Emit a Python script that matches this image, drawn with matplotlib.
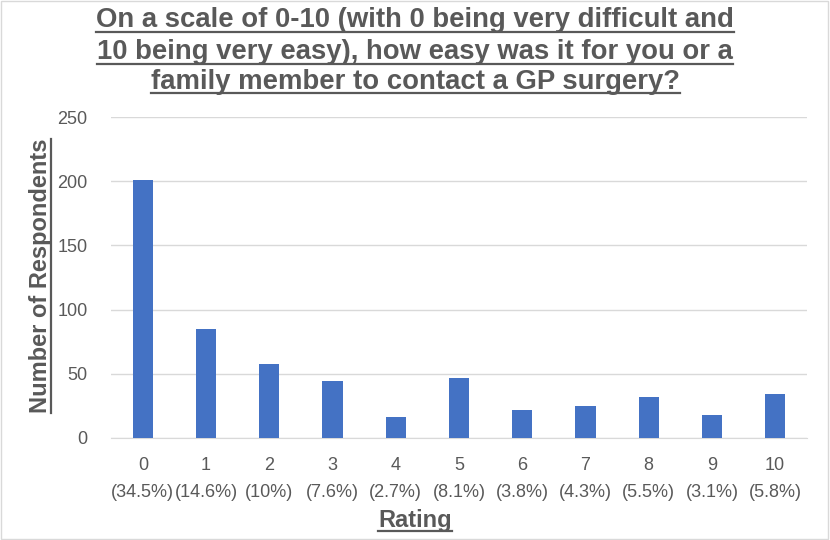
import matplotlib
matplotlib.use('Agg')
import matplotlib.pyplot as plt
from matplotlib.lines import Line2D
from matplotlib import font_manager
import numpy as np

ratings = ['0', '1', '2', '3', '4', '5', '6', '7', '8', '9', '10']
counts = [201, 85, 58, 44, 16, 47, 22, 25, 32, 18, 34]
percents = ['34.5%', '14.6%', '10%', '7.6%', '2.7%', '8.1%', '3.8%', '4.3%', '5.5%', '3.1%', '5.8%']

title_lines = ['On a scale of 0-10 (with 0 being very difficult and',
               '10 being very easy), how easy was it for you or a',
               'family member to contact a GP surgery?']

names = {f.name for f in font_manager.fontManager.ttflist}
narrow = 'Liberation Sans Narrow' if 'Liberation Sans Narrow' in names else 'Liberation Sans'

grey = '#595959'
plt.rcParams['font.family'] = ['Liberation Sans', 'DejaVu Sans']

fig = plt.figure(figsize=(8.3, 5.4), dpi=100)
ax = fig.add_axes([0.134, 0.189, 0.838, 0.594])

x = np.arange(len(ratings))
ax.bar(x, counts, width=0.32, color='#4472C4', zorder=3)
ax.set_xlim(-0.5, len(ratings) - 0.5)
ax.set_ylim(0, 250)
ax.set_yticks(range(0, 251, 50))
ax.set_xticks(x)
ax.set_xticklabels([f'{r}\n({p})' for r, p in zip(ratings, percents)],
                   fontsize=13, color=grey, linespacing=1.75)
ax.tick_params(axis='y', labelsize=13, labelcolor=grey, length=0, pad=17)
ax.tick_params(axis='x', length=0, pad=14)
ax.grid(axis='y', color='#d9d9d9', linewidth=1, zorder=0)
for s in ['top', 'right', 'left']:
    ax.spines[s].set_visible(False)
ax.spines['bottom'].set_color('#d9d9d9')

texts = []
ys = [0.963, 0.903, 0.849]
for line, y in zip(title_lines, ys):
    texts.append(fig.text(0.5, y, line, ha='center', va='center', fontsize=19.8,
                          fontweight='bold', color=grey, family=narrow))
ylab = fig.text(0.049, 0.489, 'Number of Respondents', ha='center', va='center',
                rotation=90, fontsize=17, fontweight='bold', color=grey, family=narrow)
xlab = fig.text(0.5, 0.036, 'Rating', ha='center', va='center', fontsize=17,
                fontweight='bold', color=grey, family=narrow)

# underline the bold texts
fig.canvas.draw()
r = fig.canvas.get_renderer()
inv = fig.transFigure.inverted()
for t in texts + [xlab]:
    bb = t.get_window_extent(r).transformed(inv)
    yy = bb.y0 + 0.002
    fig.add_artist(Line2D([bb.x0, bb.x1], [yy, yy], color=grey, lw=1.6,
                          transform=fig.transFigure))
bb = ylab.get_window_extent(r).transformed(inv)
xx = bb.x1 - 0.001
fig.add_artist(Line2D([xx, xx], [bb.y0, bb.y1], color=grey, lw=1.6,
                      transform=fig.transFigure))

# chart border
fig.add_artist(plt.Rectangle((0.001, 0.001), 0.997, 0.997, fill=False,
                             edgecolor='#d9d9d9', lw=1, transform=fig.transFigure))

fig.savefig('out.png', dpi=100)
